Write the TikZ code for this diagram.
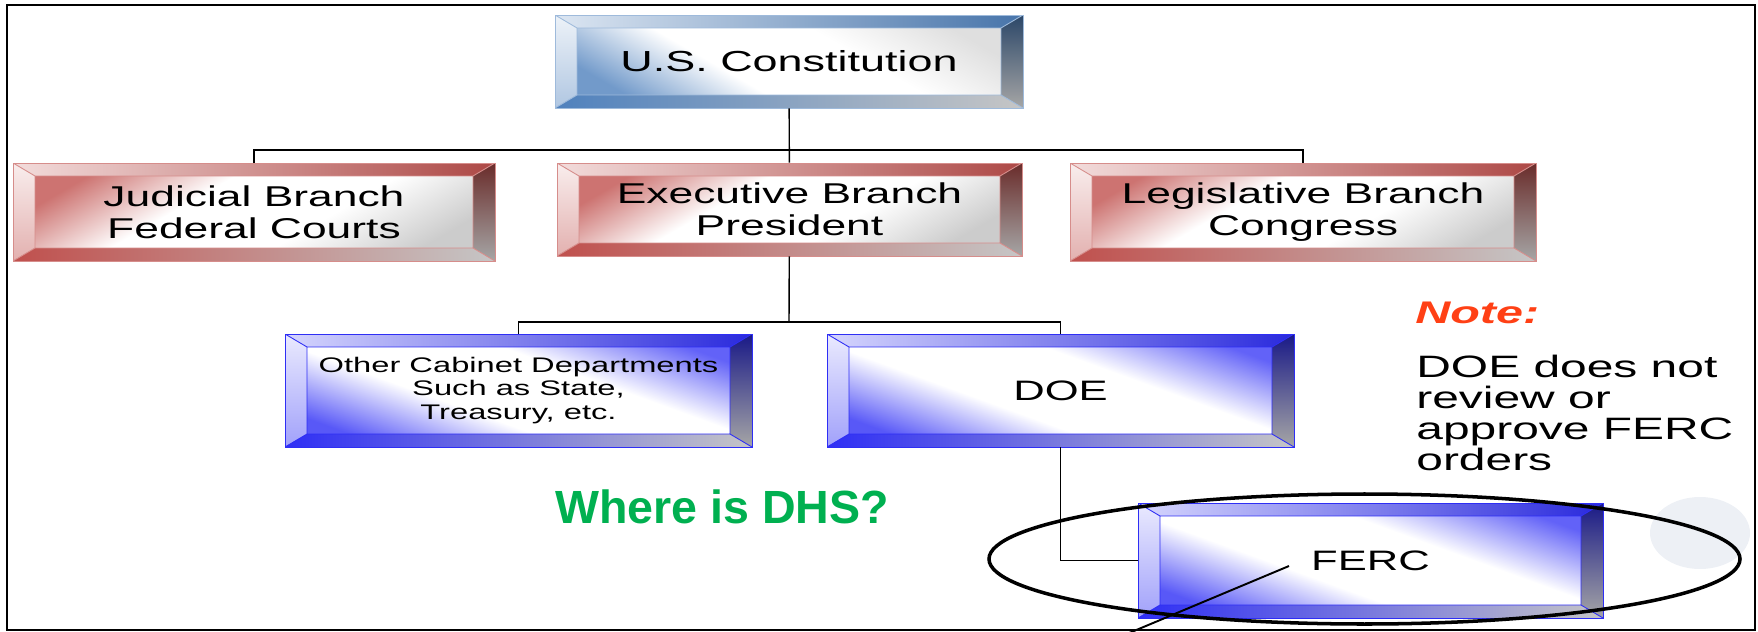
\documentclass[tikz,border=0pt]{standalone}
\usepackage{fontspec}
\setmainfont{Liberation Sans}[FakeStretch=1.55]
\newfontfamily\dhsfont{Liberation Sans}
\usepackage{tikz}
\usepackage{xcolor}

\definecolor{constblue}{HTML}{4F81BD}
\definecolor{branchred}{HTML}{C0504D}
\definecolor{deptblue}{HTML}{2E2EF5}
\definecolor{dhsgreen}{HTML}{00B050}
\definecolor{notered}{HTML}{FF4015}
\definecolor{dotgray}{HTML}{EDF0F5}
\colorlet{facel}{white}
\colorlet{facer}{white}

% face of a box: tinted at both ends, a broad white band in between
\pgfdeclarehorizontalshading[facel,facer]{facewash}{100bp}{color(0bp)=(facel); color(22bp)=(facel); color(40bp)=(white); color(60bp)=(white); color(78bp)=(facer); color(100bp)=(facer)}

\tikzset{
    % #1 main colour, #2 colour at the far side of the face, #3 line colour, #4 angle of the face shading
    bevel/.style n args={4}{
        draw=#3, line width=0.5pt, inner sep=0pt, align=center,
        path picture={
            \coordinate (o1) at (path picture bounding box.north west);
            \coordinate (o2) at (path picture bounding box.north east);
            \coordinate (o3) at (path picture bounding box.south east);
            \coordinate (o4) at (path picture bounding box.south west);
            \coordinate (i1) at ([xshift=0.44cm, yshift=-0.26cm]o1);
            \coordinate (i2) at ([xshift=-0.44cm, yshift=-0.26cm]o2);
            \coordinate (i3) at ([xshift=-0.44cm, yshift=0.26cm]o3);
            \coordinate (i4) at ([xshift=0.44cm, yshift=0.26cm]o4);
            \shade[left color=#1!20!white, right color=#1!90!black] (o1) -- (o2) -- (i2) -- (i1) -- cycle;
            \shade[top color=#1!10!white, bottom color=#1!45!white] (o1) -- (i1) -- (i4) -- (o4) -- cycle;
            \shade[top color=#1!55!black, bottom color=gray!70] (o2) -- (o3) -- (i3) -- (i2) -- cycle;
            \shade[left color=#1, right color=gray!45] (o4) -- (i4) -- (i3) -- (o3) -- cycle;
            \colorlet{facel}{#1!80!white}\colorlet{facer}{#2}
            \shade[shading=facewash, shading angle=#4] (i1) rectangle (i3);
            \draw[#3, line width=0.5pt] (i1) rectangle (i3) (o1) -- (i1) (o2) -- (i2) (o3) -- (i3) (o4) -- (i4);
        }
    },
    constbox/.style={bevel={constblue}{gray!25}{constblue!55!white}{60}, font=\fontsize{16.5}{18.4}\selectfont},
    branchbox/.style={bevel={branchred}{gray!40}{branchred!65!white}{-60}, font=\fontsize{16.3}{18.4}\selectfont},
    deptbox/.style={bevel={deptblue}{deptblue!75!white}{deptblue}{70}},
    link/.style={line width=0.8pt},
    highlight/.style={line width=2pt},
}

\begin{document}
\begin{tikzpicture}[x=0.02cm, y=-0.02cm]
    \useasboundingbox (0,0) rectangle (1758,632);

    % Backdrop
    \fill[dotgray] (1700,533) ellipse [x radius=50, y radius=36];
    \draw[line width=1.4pt] (7,5) rectangle (1755,630);

    % Boxes
    \node[constbox, minimum width=9.36cm, minimum height=1.86cm] (const) at (789,61.5) {U.S. Constitution};
    \node[branchbox, minimum width=9.64cm, minimum height=1.96cm] (judicial) at (254,212) {Judicial Branch\\Federal Courts};
    \node[branchbox, minimum width=9.30cm, minimum height=1.86cm] (exec) at (789.5,209.5) {Executive Branch\\President};
    \node[branchbox, minimum width=9.32cm, minimum height=1.96cm] (legis) at (1303,212) {Legislative Branch\\Congress};
    \node[deptbox, minimum width=9.34cm, minimum height=2.26cm, font=\fontsize{12}{13.2}\selectfont] (other) at (518.5,390.5) {Other Cabinet Departments\\Such as State,\\Treasury, etc.};
    \node[deptbox, minimum width=9.34cm, minimum height=2.26cm, font=\fontsize{16}{18}\selectfont] (doe) at (1060.5,390.5) {DOE};
    \node[deptbox, minimum width=9.30cm, minimum height=2.30cm, font=\fontsize{16}{18}\selectfont] (ferc) at (1370.5,560.5) {FERC};

    % Connectors
    \coordinate (top bus) at (789,150);
    \coordinate (mid bus) at (789,322);
    \draw[link] (const) -- (exec);
    \draw[link] (judicial.north) |- (top bus) -| (legis.north);
    \draw[link] (exec) -- (mid bus);
    \draw[link] (other.north) |- (mid bus) -| (doe.north);
    \draw[link] (doe.south) |- (ferc.west);

    % Highlight
    \draw[highlight] (1364.5,559) ellipse [x radius=375.5, y radius=65];
    \coordinate (tail) at (1122,636);
    \draw[line width=1.1pt] ([xshift=-1.63cm, yshift=-0.11cm]ferc.center) -- (tail);

    % Texts
    \node[anchor=base west, inner sep=0pt, text=dhsgreen, font=\dhsfont\bfseries\fontsize{26.5}{30}\selectfont] (question) at (555,523) {Where is DHS?};
    \node[anchor=base west, inner sep=0pt, text=notered, font=\bfseries\itshape\fontsize{17.8}{20}\selectfont] (note) at (1415,323) {Note:};
    \node[anchor=north west, inner sep=0pt, align=left, font=\fontsize{17.6}{17.6}\selectfont] (remark) at (1416,355) {DOE does not\\review or\\approve FERC\\orders};
\end{tikzpicture}
\end{document}
